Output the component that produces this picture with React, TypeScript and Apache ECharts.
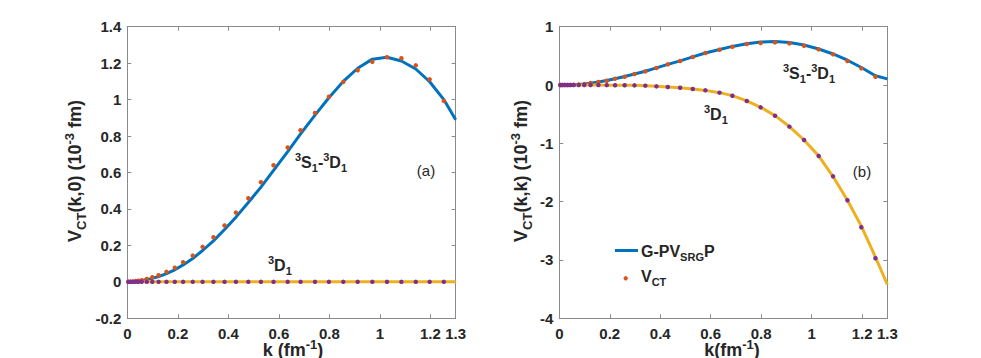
import React, { useEffect, useRef } from "react";
import * as echarts from "echarts";

// momentum mesh of the dots (fm^-1)
const kDots = [0.004, 0.012, 0.022, 0.033, 0.044, 0.057, 0.077, 0.099, 0.124, 0.155, 0.188, 0.221, 0.259, 0.298, 0.341, 0.385, 0.430, 0.479, 0.529, 0.579, 0.635, 0.686, 0.743, 0.798, 0.855, 0.912, 0.970, 1.028, 1.085, 1.142, 1.197, 1.253];
// momentum grid of the solid curves
const kLine = [0, 0.022, 0.044, 0.057, 0.077, 0.099, 0.124, 0.155, 0.188, 0.221, 0.259, 0.298, 0.341, 0.385, 0.430, 0.479, 0.529, 0.579, 0.635, 0.686, 0.743, 0.798, 0.855, 0.912, 0.970, 1.028, 1.085, 1.142, 1.197, 1.253, 1.3];

// (a) V_CT(k,0)
const aSDLine = [0, 0.001, 0.004, 0.007, 0.012, 0.019, 0.029, 0.045, 0.066, 0.093, 0.128, 0.172, 0.225, 0.287, 0.355, 0.435, 0.520, 0.612, 0.715, 0.812, 0.915, 1.010, 1.100, 1.172, 1.222, 1.232, 1.212, 1.168, 1.098, 1.000, 0.890];
const aSDDots = [0.000, 0.001, 0.002, 0.004, 0.006, 0.009, 0.016, 0.025, 0.036, 0.055, 0.077, 0.108, 0.144, 0.192, 0.245, 0.309, 0.380, 0.459, 0.547, 0.640, 0.737, 0.832, 0.927, 1.016, 1.097, 1.161, 1.208, 1.232, 1.227, 1.188, 1.111, 0.993];
const aDLine = [0, 0, 0, 0, 0, 0, 0, 0, 0, 0, 0, 0, 0, 0, 0, 0, 0, 0, 0, 0, 0, 0, 0, 0, 0, 0, 0, 0, 0, 0, 0];
const aDDots = [0, 0, 0, 0, 0, 0, 0, 0, 0, 0, 0, 0, 0, 0, 0, 0, 0, 0, 0, 0, 0, 0, 0, 0, 0, 0, 0, 0, 0, 0, 0, 0];

// (b) V_CT(k,k)
const bSDLine = [0, 0, 0.002, 0.003, 0.008, 0.016, 0.032, 0.052, 0.076, 0.108, 0.145, 0.190, 0.237, 0.293, 0.354, 0.415, 0.483, 0.550, 0.610, 0.662, 0.708, 0.737, 0.745, 0.728, 0.685, 0.618, 0.532, 0.425, 0.300, 0.160, 0.105];
const bSDDots = [0, 0, 0, 0.001, 0.002, 0.003, 0.007, 0.016, 0.034, 0.051, 0.074, 0.109, 0.143, 0.189, 0.234, 0.291, 0.354, 0.411, 0.480, 0.549, 0.606, 0.657, 0.703, 0.720, 0.731, 0.714, 0.674, 0.611, 0.526, 0.411, 0.286, 0.143];
const bDLine = [0, 0, 0, 0, 0, 0, 0, -0.001, -0.002, -0.003, -0.004, -0.006, -0.011, -0.022, -0.034, -0.047, -0.068, -0.092, -0.131, -0.182, -0.272, -0.382, -0.525, -0.712, -0.943, -1.215, -1.570, -1.975, -2.420, -2.950, -3.420];
const bDDots = [0, 0, 0, 0, 0, 0, 0, 0, 0, -0.001, -0.002, -0.003, -0.004, -0.006, -0.011, -0.023, -0.034, -0.046, -0.069, -0.091, -0.131, -0.183, -0.274, -0.383, -0.526, -0.714, -0.943, -1.217, -1.566, -1.977, -2.440, -2.971];

const xTicksMax = 1.3;

const BLUE = "#0072BD";
const ORANGE = "#D95319";
const YELLOW = "#EDB120";
const PURPLE = "#7E2F8E";
const AXIS = "#8a8a8a";
const TXT = "#262626";
const FONT = "Liberation Sans, Arial, Helvetica, sans-serif";

const zip = (ks: number[], vs: number[]) => ks.map((k, i) => [k, vs[i]]);

const fmt = (v: number) => String(parseFloat(v.toFixed(2)));

function xAxes(gridIndex: number) {
  const common = {
    type: "value",
    gridIndex,
    min: 0,
    max: xTicksMax,
    interval: 0.2,
    splitLine: { show: false },
    axisLine: { show: true, onZero: false, lineStyle: { color: AXIS, width: 1 } },
    axisTick: { show: true, inside: true, length: 4, lineStyle: { color: AXIS } },
  };
  return [
    {
      ...common,
      position: "bottom",
      axisLabel: {
        show: true,
        color: TXT,
        fontSize: 15,
        fontWeight: "bold",
        fontFamily: FONT,
        margin: 8,
        showMinLabel: true,
        showMaxLabel: true,
        formatter: fmt,
      },
    },
    { ...common, position: "top", axisLabel: { show: false } },
  ];
}

function yAxes(gridIndex: number, min: number, max: number, interval: number) {
  const common = {
    type: "value",
    gridIndex,
    min,
    max,
    interval,
    splitLine: { show: false },
    axisLine: { show: true, onZero: false, lineStyle: { color: AXIS, width: 1 } },
    axisTick: { show: true, inside: true, length: 4, lineStyle: { color: AXIS } },
  };
  return [
    {
      ...common,
      position: "left",
      axisLabel: {
        show: true,
        color: TXT,
        fontSize: 15,
        fontWeight: "bold",
        fontFamily: FONT,
        margin: 6,
        formatter: fmt,
      },
    },
    { ...common, position: "right", axisLabel: { show: false } },
  ];
}

const makeRich = (main: number, small: number) => ({
  m: { fontSize: main, fontWeight: "bold", fontFamily: FONT, fill: TXT, lineHeight: Math.round(main * 1.38), verticalAlign: "middle" },
  sup: { fontSize: small, fontWeight: "bold", fontFamily: FONT, fill: TXT, lineHeight: Math.round(small * 0.92), verticalAlign: "top" },
  sub: { fontSize: small, fontWeight: "bold", fontFamily: FONT, fill: TXT, lineHeight: Math.round(small * 0.92), verticalAlign: "bottom" },
});
const richLabel = makeRich(16, 11);
const richTitle = makeRich(18, 13);

function rtext(x: number, y: number, text: string, opts: any = {}) {
  return {
    type: "text",
    x,
    y,
    rotation: opts.rotation || 0,
    z: 100,
    style: {
      text,
      rich: opts.rich || richLabel,
      align: opts.align || "left",
      verticalAlign: "middle",
      fill: TXT,
      font: `bold 16px ${FONT}`,
    },
  };
}

export default function App() {
  const ref = useRef<HTMLDivElement>(null);
  useEffect(() => {
    if (!ref.current) return;
    const chart = echarts.init(ref.current, null, { renderer: "svg" });
    const lineS = (data: number[][], color: string, xi: number, yi: number) => ({
      type: "line",
      data,
      xAxisIndex: xi,
      yAxisIndex: yi,
      showSymbol: false,
      symbol: "none",
      lineStyle: { color, width: 3 },
      itemStyle: { color },
      z: 2,
    });
    const dotS = (data: number[][], color: string, xi: number, yi: number, z: number) => ({
      type: "scatter",
      data,
      xAxisIndex: xi,
      yAxisIndex: yi,
      symbol: "circle",
      symbolSize: 4.5,
      itemStyle: { color, opacity: 1 },
      z,
    });
    chart.setOption({
      animation: false,
      backgroundColor: "#ffffff",
      grid: [
        { left: 127.3, top: 26.7, width: 328.4, height: 291.6, containLabel: false },
        { left: 559.3, top: 26.7, width: 328, height: 291.6, containLabel: false },
      ],
      xAxis: [...xAxes(0), ...xAxes(1)],
      yAxis: [...yAxes(0, -0.2, 1.4, 0.2), ...yAxes(1, -4, 1, 1)],
      series: [
        lineS(zip(kLine, aSDLine), BLUE, 0, 0),
        lineS(zip(kLine, aDLine), YELLOW, 0, 0),
        dotS(zip(kDots, aSDDots), ORANGE, 0, 0, 3),
        dotS(zip(kDots, aDDots), PURPLE, 0, 0, 4),
        lineS(zip(kLine, bSDLine), BLUE, 2, 2),
        lineS(zip(kLine, bDLine), YELLOW, 2, 2),
        dotS(zip(kDots, bSDDots), ORANGE, 2, 2, 3),
        dotS(zip(kDots, bDDots), PURPLE, 2, 2, 4),
      ],
      graphic: [
        // axis titles
        rtext(293, 350, "{m|k (fm}{sup|-1}{m|)}", { align: "center", rich: richTitle }),
        rtext(732, 350, "{m|k(fm}{sup|-1}{m|)}", { align: "center", rich: richTitle }),
        rtext(75, 171, "{m|V}{sub|CT}{m|(k,0) (10}{sup|-3}{m| fm)}", { align: "center", rotation: Math.PI / 2, rich: richTitle }),
        rtext(521, 171, "{m|V}{sub|CT}{m|(k,k) (10}{sup|-3}{m| fm)}", { align: "center", rotation: Math.PI / 2, rich: richTitle }),
        // curve labels
        rtext(295, 162, "{sup|3}{m|S}{sub|1}{m|-}{sup|3}{m|D}{sub|1}"),
        rtext(268, 265, "{sup|3}{m|D}{sub|1}"),
        rtext(783, 73, "{sup|3}{m|S}{sub|1}{m|-}{sup|3}{m|D}{sub|1}"),
        rtext(704, 114, "{sup|3}{m|D}{sub|1}"),
        {
          type: "text",
          x: 426,
          y: 170,
          style: { text: "(a)", fill: TXT, font: `15px ${FONT}`, align: "center", verticalAlign: "middle" },
        },
        {
          type: "text",
          x: 862,
          y: 171,
          style: { text: "(b)", fill: TXT, font: `15px ${FONT}`, align: "center", verticalAlign: "middle" },
        },
        // legend
        {
          type: "line",
          shape: { x1: 615, y1: 250.5, x2: 638, y2: 250.5 },
          style: { stroke: BLUE, lineWidth: 3 },
        },
        rtext(641, 251, "{m|G-PV}{sub|SRG}{m|P}"),
        {
          type: "circle",
          shape: { cx: 625.7, cy: 278.3, r: 2.2 },
          style: { fill: ORANGE },
        },
        rtext(641, 276, "{m|V}{sub|CT}"),
      ],
    });
    return () => chart.dispose();
  }, []);
  return (
    <div
      ref={ref}
      style={{ position: "fixed", left: 0, top: 0, width: 981, height: 358, background: "#fff" }}
    />
  );
}
